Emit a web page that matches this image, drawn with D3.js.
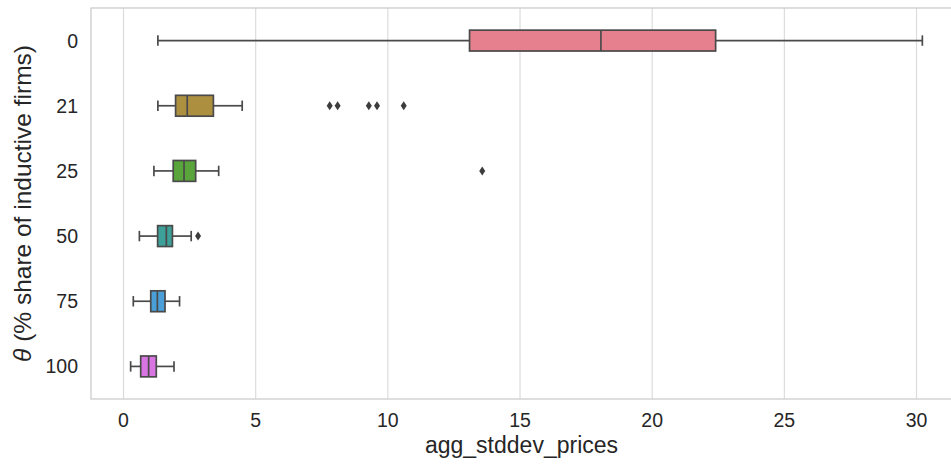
<!DOCTYPE html>
<html>
<head>
<meta charset="utf-8">
<script src="https://cdn.jsdelivr.net/npm/d3@7"></script>
<style>
  body { margin: 0; background: #fff; }
  text { font-family: "Liberation Sans", Arial, sans-serif; fill: #262626; }
</style>
</head>
<body>
<div id="chart"></div>
<script>
const width = 951, height = 464;
const margin = {left: 91, top: 8, bottom: 399};

// theta groups and box stats
const categories = ["0", "21", "25", "50", "75", "100"];
const whiskerLow  = [1.30, 1.30, 1.15, 0.60, 0.37, 0.27];
const q1          = [13.09, 1.97, 1.88, 1.29, 1.03, 0.65];
const median      = [18.06, 2.41, 2.29, 1.62, 1.28, 0.95];
const q3          = [22.40, 3.40, 2.73, 1.85, 1.57, 1.24];
const whiskerHigh = [30.22, 4.49, 3.60, 2.56, 2.12, 1.91];
const outliers    = [[], [7.80, 8.10, 9.28, 9.59, 10.60], [13.57], [2.82], [], []];
const colors = ["#e6808f", "#ad8f40", "#59a53c", "#3ea199", "#4a9fd8", "#d975e3"];
const xTicks = [0, 5, 10, 15, 20, 25, 30];

const data = categories.map((c, i) => ({
    cat: c, lo: whiskerLow[i], q1: q1[i], med: median[i], q3: q3[i],
    hi: whiskerHigh[i], out: outliers[i], color: colors[i]
}));

let svg = d3.select("#chart")
    .append("svg")
    .attr("width", width)
    .attr("height", height);

let x = d3.scaleLinear()
    .domain([-1.23, 31.72])
    .range([margin.left, 962]);

let y = d3.scaleBand()
    .domain(categories)
    .range([margin.top, margin.bottom])
    .padding(0);

const boxH = y.bandwidth() * 0.32;
const lineCol = "#4a4a4a";

// grid
svg.append("g")
    .selectAll("line")
    .data(xTicks)
    .enter()
    .append("line")
    .attr("x1", d => x(d)).attr("x2", d => x(d))
    .attr("y1", margin.top).attr("y2", margin.bottom)
    .attr("stroke", "#dcdcdc")
    .attr("stroke-width", 1.2);

// frame
svg.append("rect")
    .attr("x", margin.left)
    .attr("y", margin.top)
    .attr("width", 962 - margin.left)
    .attr("height", margin.bottom - margin.top)
    .attr("fill", "none")
    .attr("stroke", "#cccccc")
    .attr("stroke-width", 1.3);

let boxes = svg.append("g")
    .selectAll("g")
    .data(data)
    .enter()
    .append("g")
    .attr("transform", d => `translate(0,${y(d.cat) + y.bandwidth() / 2})`);

// whiskers
boxes.append("line")
    .attr("x1", d => x(d.lo)).attr("x2", d => x(d.q1))
    .attr("stroke", lineCol).attr("stroke-width", 1.7);
boxes.append("line")
    .attr("x1", d => x(d.q3)).attr("x2", d => x(d.hi))
    .attr("stroke", lineCol).attr("stroke-width", 1.7);

// caps
boxes.selectAll(".cap")
    .data(d => [d.lo, d.hi])
    .enter()
    .append("line")
    .attr("x1", d => x(d)).attr("x2", d => x(d))
    .attr("y1", -boxH / 4).attr("y2", boxH / 4)
    .attr("stroke", lineCol).attr("stroke-width", 1.7);

// box
boxes.append("rect")
    .attr("x", d => x(d.q1))
    .attr("y", -boxH / 2)
    .attr("width", d => x(d.q3) - x(d.q1))
    .attr("height", boxH)
    .attr("fill", d => d.color)
    .attr("stroke", lineCol)
    .attr("stroke-width", 1.7);

// median
boxes.append("line")
    .attr("x1", d => x(d.med)).attr("x2", d => x(d.med))
    .attr("y1", -boxH / 2).attr("y2", boxH / 2)
    .attr("stroke", lineCol).attr("stroke-width", 1.7);

// outliers as diamonds
boxes.selectAll(".out")
    .data(d => d.out)
    .enter()
    .append("path")
    .attr("d", d => `M${x(d)},-4.5 L${x(d) + 3},0 L${x(d)},4.5 L${x(d) - 3},0 Z`)
    .attr("fill", "#3d3d3d");

// x tick labels
svg.append("g")
    .selectAll("text")
    .data(xTicks)
    .enter()
    .append("text")
    .attr("x", d => x(d))
    .attr("y", 427)
    .style("text-anchor", "middle")
    .style("font-size", "19.5px")
    .text(d => d);

// y tick labels
svg.append("g")
    .selectAll("text")
    .data(categories)
    .enter()
    .append("text")
    .attr("x", 78)
    .attr("y", d => y(d) + y.bandwidth() / 2)
    .attr("dy", "0.36em")
    .style("text-anchor", "end")
    .style("font-size", "19.5px")
    .text(d => d);

svg.append("text")
    .attr("x", (margin.left + 962) / 2 - 5)
    .attr("y", 453)
    .style("text-anchor", "middle")
    .style("font-size", "23px")
    .text("agg_stddev_prices");

let ylab = svg.append("text")
    .attr("transform", `translate(31, ${(margin.top + margin.bottom) / 2}) rotate(-90)`)
    .style("text-anchor", "middle")
    .style("font-size", "24.5px");
ylab.append("tspan").style("font-style", "italic").text("θ");
ylab.append("tspan").text(" (% share of inductive firms)");
</script>
</body>
</html>
